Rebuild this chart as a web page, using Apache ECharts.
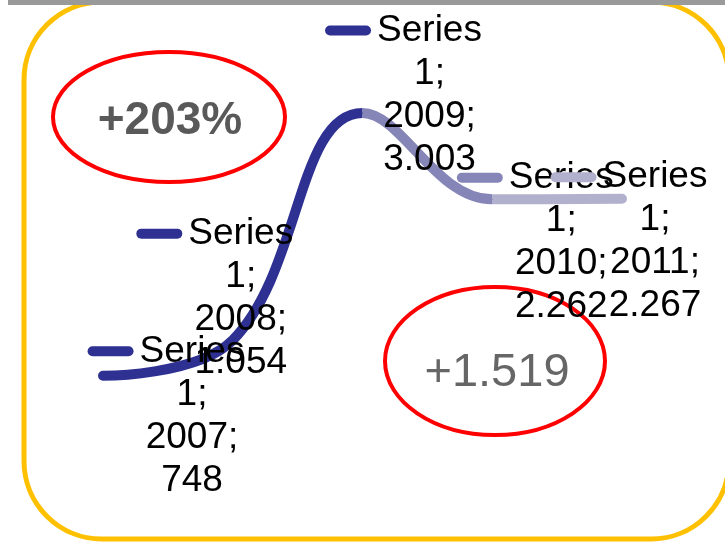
<!DOCTYPE html>
<html><head><meta charset="utf-8">
<script src="https://cdn.jsdelivr.net/npm/echarts@6/dist/echarts.min.js"></script>
<style>html,body{margin:0;padding:0;background:#fff}#c{width:725px;height:543px}</style>
</head><body><div id="c"></div>
<script>
// ---- data ----
const categories = ['2007', '2008', '2009', '2010', '2011'];
const values = [748, 1054, 3003, 2262, 2267];
const seriesName = 'Series 1';
const noteGrowth = '+203%';
const noteDelta = '+1.519';

// ---- styling / layout ----
const pointColors = ['#2E3192', '#2E3192', '#2E3192', '#8585B8', '#B1B1CD'];
const labelOffsets = [[89, 40], [8, -42], [67, -18], [69, 43], [33, 43]];
const FONT = '"Liberation Sans", Arial, sans-serif';

function fmt(v) {
  return String(v).replace(/\B(?=(\d{3})+(?!\d))/g, '.');
}

const rich = {
  s: { fontSize: 37, fontFamily: FONT, lineHeight: 43, color: '#000' },
  g: { width: 6, height: 10 },
  p: { width: 52, height: 10 }
};
pointColors.forEach((c, i) => {
  rich['k' + i] = { width: 46, height: 10, borderRadius: 5, backgroundColor: c };
});

const nameParts = seriesName.split(' ');

const chart = echarts.init(document.getElementById('c'), null, { renderer: 'canvas' });
chart.setOption({
  backgroundColor: '#fff',
  animation: false,
  grid: { left: 103, right: 103, top: 55, height: 408 },
  xAxis: { type: 'category', data: categories, boundaryGap: false, show: false },
  yAxis: { type: 'value', min: 0, max: 3500, show: false },
  visualMap: {
    show: false,
    type: 'piecewise',
    dimension: 0,
    seriesIndex: 0,
    pieces: [
      { lte: 2, color: pointColors[2] },
      { gt: 2, lte: 3, color: pointColors[3] },
      { gt: 3, color: pointColors[4] }
    ]
  },
  graphic: [
    { type: 'rect', z: 0, shape: { x: 24, y: 2, width: 705, height: 537, r: 78 },
      style: { fill: '#fff', stroke: '#FFC000', lineWidth: 5 } },
    { type: 'rect', z: 1, shape: { x: 8, y: 0, width: 717, height: 5 },
      style: { fill: '#9a9a9a' } },
    { type: 'ellipse', z: 1, shape: { cx: 169, cy: 117, rx: 116, ry: 65 },
      style: { fill: 'none', stroke: '#FF0000', lineWidth: 4 } },
    { type: 'text', z: 1, x: 170, y: 121,
      style: { text: noteGrowth, font: 'bold 46px ' + FONT, fill: '#595959', align: 'center', verticalAlign: 'middle' } },
    { type: 'ellipse', z: 1, shape: { cx: 495, cy: 361, rx: 110, ry: 74 },
      style: { fill: 'none', stroke: '#FF0000', lineWidth: 4 } },
    { type: 'text', z: 1, x: 497, y: 373,
      style: { text: noteDelta, font: '47px ' + FONT, fill: '#666666', align: 'center', verticalAlign: 'middle' } }
  ],
  series: [{
    type: 'line',
    name: seriesName,
    z: 3,
    smooth: 0.4,
    symbol: 'circle',
    symbolSize: 1,
    lineStyle: { width: 10, cap: 'round', join: 'round' },
    label: {
      show: true,
      position: 'inside',
      color: '#000',
      textBorderWidth: 0,
      fontFamily: FONT,
      fontSize: 37,
      lineHeight: 43,
      align: 'center',
      verticalAlign: 'middle',
      formatter: (p) => '{k' + p.dataIndex + '|}{g|}{s|' + nameParts[0] + '}{p|}\n{s|' + nameParts[1] + ';}\n{s|' + p.name + ';}\n{s|' + fmt(p.value) + '}',
      rich: rich
    },
    data: values.map((v, i) => ({ value: v, label: { offset: labelOffsets[i] } }))
  }]
});
</script></body></html>
